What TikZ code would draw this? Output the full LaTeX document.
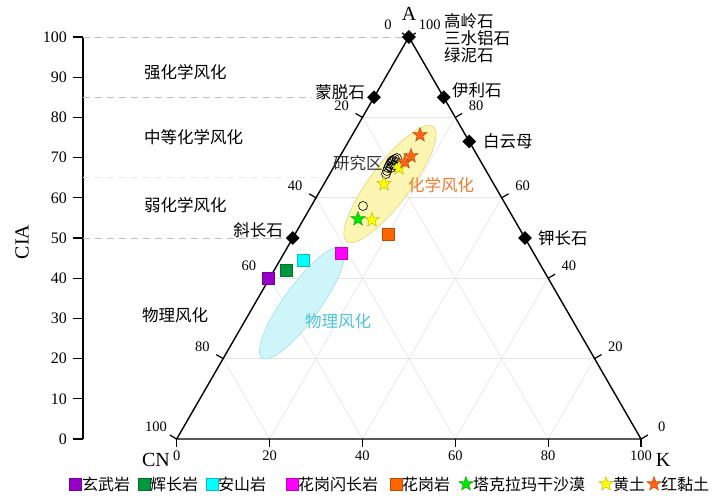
\documentclass[tikz,border=0pt]{standalone}
\usepackage{fontspec}
\setmainfont{Liberation Serif}
\newfontfamily\cjk{Noto Sans CJK SC}
\usetikzlibrary{calc,shapes.geometric}
\definecolor{cpurple}{RGB}{150,0,200}
\definecolor{cgreen}{RGB}{0,150,60}
\definecolor{ccyan}{RGB}{0,255,255}
\definecolor{cmag}{RGB}{255,0,255}
\definecolor{corange}{RGB}{255,102,0}
\definecolor{sgreen}{RGB}{0,230,0}
\definecolor{syellow}{RGB}{255,255,0}
\definecolor{sred}{RGB}{255,100,20}
\definecolor{torange}{RGB}{237,125,49}
\definecolor{tcyan}{RGB}{75,196,220}
\definecolor{eyfill}{RGB}{253,245,170}
\definecolor{eydraw}{RGB}{225,215,120}
\definecolor{ecfill}{RGB}{200,245,250}
\definecolor{ecdraw}{RGB}{160,225,235}
\begin{document}
\begin{tikzpicture}[x=1pt,y=-1pt,
  tri/.style={line width=1.4pt, black},
  gridl/.style={line width=0.6pt, black!10},
  dsh/.style={line width=0.8pt, black!25, dash pattern=on 7pt off 5pt},
  tck/.style={line width=1.2pt},
  tlab/.style={font=\fontsize{14.5}{14.5}\selectfont, inner sep=0pt},
  alab/.style={font=\fontsize{16}{16}\selectfont, inner sep=0pt, anchor=east},
  big/.style={font=\fontsize{20}{20}\selectfont, inner sep=0pt},
  zh/.style={font=\cjk\fontsize{16.5}{16.5}\selectfont, inner sep=0pt},
  lg/.style={font=\cjk\fontsize{16}{16}\selectfont, inner sep=0pt, anchor=west},
  mineral/.style={diamond, fill=black, inner sep=0pt, minimum size=14pt},
  sq/.style={rectangle, inner sep=0pt, minimum size=12pt, fill=#1, draw=#1!75!black, line width=0.4pt},
  st/.style={star, star points=5, star point ratio=2.4, inner sep=0pt, minimum size=15pt, fill=#1, draw=#1!70!black, line width=0.4pt},
  oc/.style={circle, draw=black, line width=0.6pt, inner sep=0pt, minimum size=9pt},
]
\useasboundingbox[fill=white] (0,0) rectangle (722,497);
\coordinate (CN) at (176.7,439);
\coordinate (K) at (641,439);
\coordinate (A) at (408.85,37);
% grid
\foreach \t in {0.2,0.4,0.6,0.8}{
  \draw[gridl] ($(CN)!\t!(A)$) -- ($(K)!\t!(A)$);
  \draw[gridl] ($(A)!\t!(CN)$) -- ($(K)!\t!(CN)$);
  \draw[gridl] ($(A)!\t!(K)$) -- ($(CN)!\t!(K)$);
}
% ellipses
\path[fill=eyfill, draw=eydraw, line width=0.6pt, fill opacity=0.9] (390,184) ellipse [x radius=72pt, y radius=20pt, rotate=53];
\path[fill=ecfill, draw=ecdraw, line width=0.6pt, fill opacity=0.9] (302,303) ellipse [x radius=68pt, y radius=18pt, rotate=54];
% CIA axis
\draw[tri] (83,37) -- (83,439);
\foreach \v in {0,10,...,100}{
  \draw[tck] (73,{439-4.02*\v}) -- (83,{439-4.02*\v});
  \node[alab] (ax\v) at (67,{439-4.02*\v}) {\v};
}
\node[big, rotate=90] (cia) at (22,242) {CIA};
% dashed lines
\draw[dsh] (83,37) -- (402,37);
\draw[dsh] (83,97.3) -- (312,97.3);
\draw[black!8, line width=0.8pt, dash pattern=on 7pt off 5pt] (83,177.7) -- (327,177.7);
\draw[dsh] (83,238) -- (287,238);
% triangle
\draw[tri, line join=miter] (CN) -- (K) -- (A) -- cycle;
% ticks
\foreach \t/\lab in {0/0,0.2/20,0.4/40,0.6/60,0.8/80,1/100}{
  \coordinate (L) at ($(A)!\t!(CN)$);
  \draw[tck] (L) -- ++(-6.9,-4);
  \node[tlab] at ($(L)+(-20.8,-12)$) {\lab};
  \coordinate (R) at ($(K)!\t!(A)$);
  \draw[tck] (R) -- ++(6.9,-4);
  \node[tlab] at ($(R)+(20.8,-12)$) {\lab};
  \coordinate (B) at ($(CN)!\t!(K)$);
  \draw[tck] (B) -- ++(0,8);
  \node[tlab] at ($(B)+(0,17)$) {\lab};
}
\node[big] (lA) at (409,14) {A};
\node[big] (lCN) at (156,460) {CN};
\node[big] (lK) at (663,460) {K};
% region labels
\node[zh, anchor=west] (r1) at (144,72) {强化学风化};
\node[zh, anchor=west] (r2) at (144,137) {中等化学风化};
\node[zh, anchor=west] (r3) at (144,205) {弱化学风化};
\node[zh, anchor=west] (r4) at (142,315) {物理风化};
% minerals
\node[mineral] (m1) at (A) {};
\node[mineral] (m2) at ($(CN)!0.85!(A)$) {};
\node[mineral] (m3) at ($(K)!0.85!(A)$) {};
\node[mineral] (m4) at ($(K)!0.74!(A)$) {};
\node[mineral] (m5) at ($(CN)!0.5!(A)$) {};
\node[mineral] (m6) at ($(K)!0.5!(A)$) {};
\node[zh, anchor=west] (t1) at (444,21) {高岭石};
\node[zh, anchor=west] (t2) at (444,38) {三水铝石};
\node[zh, anchor=west] (t3) at (444,55) {绿泥石};
\node[zh, anchor=east] (t4) at (365,92) {蒙脱石};
\node[zh, anchor=west] (t5) at (452,90) {伊利石};
\node[zh, anchor=west] (t6) at (483,141) {白云母};
\node[zh, anchor=east] (t7) at (283,230) {斜长石};
\node[zh, anchor=west] (t8) at (538,238) {钾长石};
\node[zh, anchor=west, text=black!80] (t9) at (333,163) {研究区};
\node[zh, anchor=west, text=torange] (t10) at (408,185) {化学风化};
\node[zh, anchor=west, text=tcyan] (t11) at (305,321) {物理风化};
% rock squares
\node[sq=cpurple] (p1) at (268,278) {};
\node[sq=cgreen] (p2) at (286,270) {};
\node[sq=ccyan] (p3) at (303,260) {};
\node[sq=cmag] (p4) at (341,253) {};
\node[sq=corange] (p5) at (388,234) {};
% study circles
\foreach \x/\y [count=\i] in {363/206,386/174,387/171,388/168,389/166,390/164,391/162,392/161,393/160,395/159,397/158,394/165,391/168,396/162}{
  \node[oc] (c\i) at (\x,\y) {};
}
% stars
\node[st=sgreen] (s1) at (358,219) {};
\node[st=syellow] (s2) at (372,220) {};
\node[st=syellow] (s3) at (384,184) {};
\node[st=syellow] (s4) at (399,168) {};
\node[st=sred] (s5) at (405,162) {};
\node[st=sred] (s6) at (411,156) {};
\node[st=sred] (s7) at (420,135) {};
% legend
\node[sq=cpurple] (g1) at (75,484) {};
\node[lg] (h1) at (82,484) {玄武岩};
\node[sq=cgreen] (g2) at (144,484) {};
\node[lg] (h2) at (150,484) {辉长岩};
\node[sq=ccyan] (g3) at (212,484) {};
\node[lg] (h3) at (218,484) {安山岩};
\node[sq=cmag] (g4) at (292,484) {};
\node[lg] (h4) at (298,484) {花岗闪长岩};
\node[sq=corange] (g5) at (396,484) {};
\node[lg] (h5) at (402,484) {花岗岩};
\node[st=sgreen] (g6) at (466,484) {};
\node[lg] (h6) at (473,484) {塔克拉玛干沙漠};
\node[st=syellow] (g7) at (606,484) {};
\node[lg] (h7) at (613,484) {黄土};
\node[st=sred] (g8) at (654,484) {};
\node[lg] (h8) at (661,484) {红黏土};
\end{tikzpicture}
\end{document}
